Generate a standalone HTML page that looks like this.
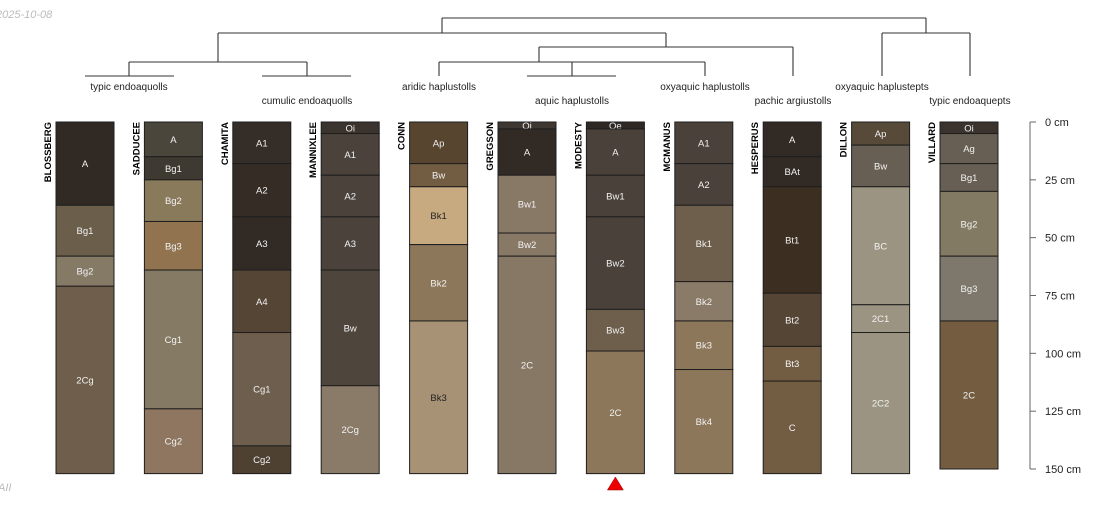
<!DOCTYPE html>
<html><head><meta charset="utf-8"><style>
body{margin:0;background:#fff;width:1100px;height:500px;overflow:hidden;font-family:"Liberation Sans",sans-serif}
</style></head><body>
<svg id="chart" width="1100" height="500" xmlns="http://www.w3.org/2000/svg" font-family="Liberation Sans, sans-serif">
<text x="-4" y="18" font-size="11" font-style="italic" fill="#bbb">2025-10-08</text>
<text x="-2" y="491" font-size="11" font-style="italic" fill="#bbb">AII</text>
<g id="dendro"></g>
<g id="profiles"></g>
<g id="axis"></g>
</svg>
<script>
const profileNames=["BLOSSBERG","SADDUCEE","CHAMITA","MANNIXLEE","CONN","GREGSON","MODESTY","MCMANUS","HESPERUS","DILLON","VILLARD"];
const horizonNames=[
["A","Bg1","Bg2","2Cg"],
["A","Bg1","Bg2","Bg3","Cg1","Cg2"],
["A1","A2","A3","A4","Cg1","Cg2"],
["Oi","A1","A2","A3","Bw","2Cg"],
["Ap","Bw","Bk1","Bk2","Bk3"],
["Oi","A","Bw1","Bw2","2C"],
["Oe","A","Bw1","Bw2","Bw3","2C"],
["A1","A2","Bk1","Bk2","Bk3","Bk4"],
["A","BAt","Bt1","Bt2","Bt3","C"],
["Ap","Bw","BC","2C1","2C2"],
["Oi","Ag","Bg1","Bg2","Bg3","2C"]];
const horizonBottoms=[
[36,58,71,152],
[15,25,43,64,124,152],
[18,41,64,91,140,152],
[5,23,41,64,114,152],
[18,28,53,86,152],
[3,23,48,58,152],
[3,23,41,81,99,152],
[18,36,69,86,107,152],
[15,28,74,97,112,152],
[10,28,79,91,152],
[5,18,30,58,86,150]];
const horizonColors=[
["#312a24","#6b5f4b","#857a66","#6e5e4b"],
["#4a463c","#3f3a31","#8a7a5c","#91744f","#857a64","#8e7660"],
["#352d27","#352c26","#312a25","#554535","#6e5e4d","#4f4132"],
["#3b342e","#4a423b","#4a423b","#4a423b","#4e463d","#8a7a68"],
["#57452f","#725d42","#c8aa80","#8c775a","#a89276"],
["#3f3832","#322b25","#887866","#887866","#877865"],
["#2f2925","#4a423a","#4a423a","#4a423a","#6e5f4c","#8c775a"],
["#4a423a","#4a423a","#6e5f4c","#8a7a68","#8c775a","#8c775a"],
["#322b25","#322b25","#3c2e21","#554535","#725d42","#725d42"],
["#574a38","#675f53","#9b9482","#9b9482","#9b9482"],
["#3b342e","#675f53","#675f53","#827a62","#7d786b","#745c40"]];
const darkText=[[],[],[],[],[false,false,true,false,true],[],[],[],[],[],[]];
const depthTicks=[0,25,50,75,100,125,150];
const leafLabels=["typic endoaquolls","cumulic endoaquolls","aridic haplustolls","aquic haplustolls","oxyaquic haplustolls","pachic argiustolls","oxyaquic haplustepts","typic endoaquepts"];
const markedProfile=6;

const NS="http://www.w3.org/2000/svg";
const y0=122, pxPerCm=347/150, x0=56, step=88.4, w=58;
const yScale=d=>y0+d*pxPerCm;
const xLeft=i=>x0+i*step;
function mk(tag,attrs,parent){const e=document.createElementNS(NS,tag);for(const k in attrs)e.setAttribute(k,attrs[k]);parent.appendChild(e);return e;}

const P=document.getElementById('profiles');
profileNames.forEach((name,i)=>{
  const g=mk('g',{},P);
  
  
  const xl=xLeft(i);
  let top=0;
  horizonBottoms[i].forEach((b,j)=>{
    const r=mk('rect',{x:xl,y:yScale(top),width:w,height:yScale(b)-yScale(top),fill:horizonColors[i][j],stroke:'#1e1e1e','stroke-width':1},g);
    
    
    const t=mk('text',{x:xl+w/2,y:(yScale(top)+yScale(b))/2+3.5,'font-size':9.5,'text-anchor':'middle',fill:(darkText[i]&&darkText[i][j])?'#222':'#f2f2f2'},g);
    t.textContent=horizonNames[i][j];
    
    
    top=b;
  });
  const nt=mk('text',{x:0,y:0,'font-size':9.5,'font-weight':'bold','text-anchor':'end',fill:'#000',transform:`translate(${xl-5},${y0}) rotate(-90)`},g);
  nt.textContent=name;
  
  
});
const mx=xLeft(markedProfile)+w/2;
const tri=mk('polygon',{points:`${mx-8},490 ${mx+8},490 ${mx},477`,fill:'#ee0000',stroke:'#900','stroke-width':0.5},P);



const A=document.getElementById('axis');
const ax=1030;
const al=mk('line',{x1:ax,y1:yScale(depthTicks[0]),x2:ax,y2:yScale(depthTicks[depthTicks.length-1]),stroke:'#666','stroke-width':1},A);


depthTicks.forEach(d=>{
  const tl=mk('line',{x1:ax,y1:yScale(d),x2:ax+6,y2:yScale(d),stroke:'#666'},A);
  
  
  const tt=mk('text',{x:ax+15,y:yScale(d)+4,'font-size':11,fill:'#222'},A);
  tt.textContent=d+' cm';
  
  
});

const D=document.getElementById('dendro');
const segs=[
[442,18,926,18],[442,18,442,33],[926,18,926,33],
[218,33,666,33],[882,33,970,33],[882,33,882,76],[970,33,970,76],
[218,33,218,62],[129,62,307,62],[129,62,129,76],[307,62,307,76],
[85,76,174,76],[262,76,351,76],
[666,33,666,47],[539,47,793,47],[793,47,793,76],[539,47,539,62],
[439,62,705,62],[439,62,439,76],[705,62,705,76],[572,62,572,76],[527,76,616,76]];
segs.forEach(s=>{
  const l=mk('line',{x1:s[0],y1:s[1],x2:s[2],y2:s[3],stroke:'#333','stroke-width':1.1},D);
  
  
});
const leafX=[129,307,439,572,705,793,882,970];
leafLabels.forEach((lab,i)=>{
  const t=mk('text',{x:leafX[i],y:i%2?104:90,'font-size':10,'text-anchor':'middle',fill:'#222'},D);
  t.textContent=lab;
  
  
});
</script>
</body></html>
